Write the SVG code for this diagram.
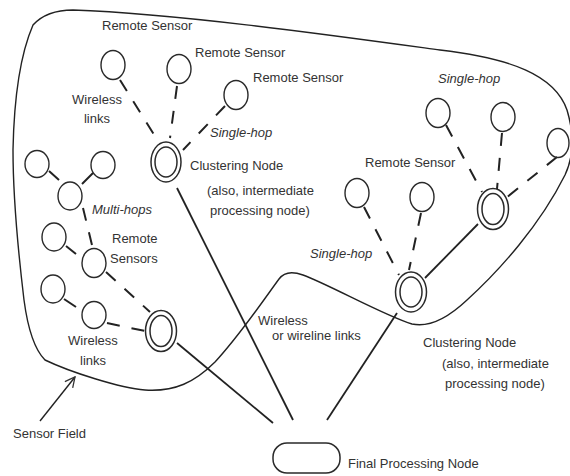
<svg xmlns="http://www.w3.org/2000/svg" width="570" height="476" viewBox="0 0 570 476">
<defs>
<style>
.s{fill:none;stroke:#2a2a2a;stroke-width:1.4}
.c{fill:none;stroke:#2a2a2a;stroke-width:1.5}
.ln{fill:none;stroke:#222;stroke-width:1.8}
.d{fill:none;stroke:#222;stroke-width:2;stroke-dasharray:13 12}
.sh{fill:none;stroke:#222;stroke-width:2}
.b{fill:none;stroke:#222;stroke-width:1.4}
text{font-family:"Liberation Sans",Arial,sans-serif;font-size:13px;fill:#333}
.i{font-style:italic}
</style>
<marker id="open" viewBox="0 0 12 12" refX="11" refY="6" markerWidth="12" markerHeight="12" markerUnits="userSpaceOnUse" orient="auto">
<path d="M1,1 L11,6 L1,11" fill="none" stroke="#333" stroke-width="1.3"/>
</marker>
</defs>
<rect width="570" height="476" fill="#fff"/>

<g id="sensor-field">
<path class="b" d="M73,10 C180,14 330,35 440,50 C510,58 555,75 567,110 C576,140 572,160 565,175 C540,225 500,270 467,300 C450,316 430,328 412,324 C385,316 330,285 303,275 C292,271 284,272 279,279 C265,298 240,335 215,362 C195,382 175,392 145,390 C120,388 70,372 45,360 C35,350 28,330 24,300 C18,250 13,190 13,150 C14,100 20,55 33,25 C43,14 58,10 73,10 Z"/>
<line class="b" x1="40" y1="421" x2="75" y2="377" marker-end="url(#open)"/>
</g>

<g id="connectors">
<line class="ln" x1="177" y1="188" x2="293" y2="420"/>
<line class="ln" x1="177" y1="343" x2="273" y2="423"/>
<line class="ln" x1="397" y1="313" x2="327" y2="420"/>
<line class="ln" x1="425" y1="278" x2="478" y2="224"/>
<line class="d" x1="120" y1="80" x2="158" y2="141"/>
<line class="d" x1="177" y1="86" x2="170" y2="138"/>
<line class="d" x1="225" y1="106" x2="183" y2="150"/>
<line class="d" x1="83" y1="208" x2="92" y2="245"/>
<line class="d" x1="106" y1="272" x2="150" y2="312"/>
<line class="d" x1="107" y1="323" x2="145" y2="331"/>
<line class="d" x1="364" y1="207" x2="399" y2="275"/>
<line class="d" x1="421" y1="213" x2="409" y2="270"/>
<line class="d" x1="446" y1="125" x2="482" y2="192"/>
<line class="d" x1="502" y1="133" x2="497" y2="189"/>
<line class="d" x1="557" y1="157" x2="506" y2="198"/>
<line class="sh" x1="49" y1="171" x2="59" y2="180"/>
<line class="sh" x1="82" y1="184" x2="93" y2="173"/>
<line class="sh" x1="66" y1="246" x2="76" y2="254"/>
<line class="sh" x1="64" y1="299" x2="76" y2="307"/>
</g>

<g id="sensor-a"><ellipse class="s" cx="113" cy="65" rx="12" ry="14.5"/></g>
<g id="sensor-b"><ellipse class="s" cx="179" cy="69" rx="12" ry="14.5"/></g>
<g id="sensor-c"><ellipse class="s" cx="236" cy="95" rx="12" ry="14.5"/></g>
<g id="sensor-l1"><ellipse class="s" cx="37" cy="164" rx="12" ry="13.5"/></g>
<g id="sensor-l2"><ellipse class="s" cx="103" cy="165" rx="12" ry="13.5"/></g>
<g id="sensor-l3"><ellipse class="s" cx="70" cy="196" rx="12" ry="14"/></g>
<g id="sensor-l4"><ellipse class="s" cx="54" cy="237" rx="12" ry="14"/></g>
<g id="sensor-l5"><ellipse class="s" cx="94" cy="263" rx="12" ry="14.5"/></g>
<g id="sensor-l6"><ellipse class="s" cx="53" cy="289" rx="12" ry="14"/></g>
<g id="sensor-l7"><ellipse class="s" cx="94" cy="315" rx="12" ry="13.5"/></g>
<g id="sensor-d"><ellipse class="s" cx="357" cy="193" rx="12" ry="14.5"/></g>
<g id="sensor-e"><ellipse class="s" cx="422" cy="197" rx="12" ry="14.5"/></g>
<g id="sensor-f"><ellipse class="s" cx="438" cy="113" rx="12" ry="14.5"/></g>
<g id="sensor-g"><ellipse class="s" cx="503" cy="117" rx="12" ry="14.5"/></g>
<g id="sensor-h"><ellipse class="s" cx="558" cy="143" rx="11" ry="14.5"/></g>

<g id="cluster-1"><ellipse class="c" cx="166" cy="162" rx="15" ry="20"/><ellipse class="c" cx="166" cy="162" rx="11" ry="15"/></g>
<g id="cluster-2"><ellipse class="c" cx="161" cy="331" rx="15.5" ry="20.5"/><ellipse class="c" cx="161" cy="331" rx="11" ry="15.5"/></g>
<g id="cluster-3"><ellipse class="c" cx="411" cy="292" rx="15.5" ry="20"/><ellipse class="c" cx="411" cy="292" rx="11" ry="15"/></g>
<g id="cluster-4"><ellipse class="c" cx="493" cy="209" rx="15.5" ry="20.5"/><ellipse class="c" cx="493" cy="209" rx="11" ry="15.5"/></g>

<g id="final-node"><rect class="c" x="273" y="443" width="67" height="30" rx="14" ry="14"/></g>

<g id="labels">
<text x="102" y="30">Remote Sensor</text>
<text x="195" y="57">Remote Sensor</text>
<text x="253" y="82">Remote Sensor</text>
<text x="97" y="104" text-anchor="middle">Wireless</text>
<text x="97" y="123" text-anchor="middle">links</text>
<text class="i" x="210" y="137">Single-hop</text>
<text x="190" y="170">Clustering Node</text>
<text x="207" y="195">(also, intermediate</text>
<text x="210" y="215">processing node)</text>
<text class="i" x="92" y="214">Multi-hops</text>
<text x="112" y="243">Remote</text>
<text x="110" y="263">Sensors</text>
<text x="68" y="345">Wireless</text>
<text x="80" y="365">links</text>
<text x="258" y="325">Wireless</text>
<text x="272" y="340">or wireline links</text>
<text class="i" x="310" y="258">Single-hop</text>
<text x="365" y="167">Remote Sensor</text>
<text class="i" x="438" y="83">Single-hop</text>
<text x="423" y="347">Clustering Node</text>
<text x="442" y="368">(also, intermediate</text>
<text x="445" y="388">processing node)</text>
<text x="13" y="438">Sensor Field</text>
<text x="348" y="468">Final Processing Node</text>
</g>
</svg>
